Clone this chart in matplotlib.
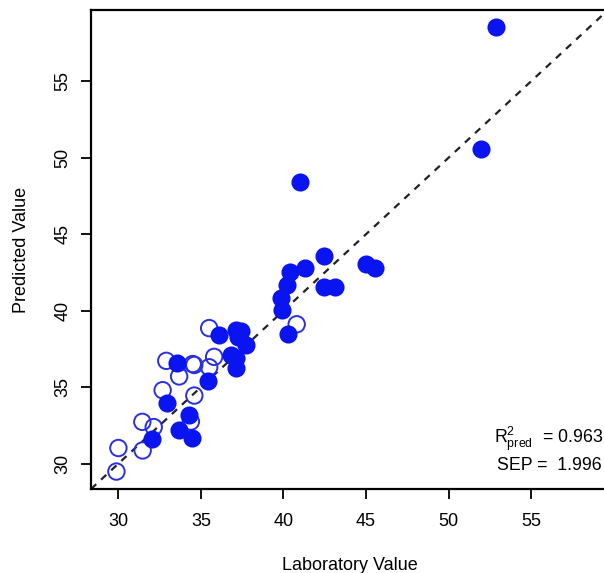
import matplotlib
matplotlib.use("Agg")
import matplotlib.pyplot as plt
import numpy as np

plt.rcParams['font.family'] = ['Liberation Sans', 'DejaVu Sans']
plt.rcParams['mathtext.fontset'] = 'custom'
plt.rcParams['mathtext.rm'] = 'Liberation Sans'
plt.rcParams['mathtext.it'] = 'Liberation Sans'

## filled points (laboratory, predicted)
lab_filled = [52.87, 51.96, 41.03, 42.44, 41.33, 40.42, 40.22, 39.85, 39.9, 42.44,
              43.15, 44.98, 45.56, 40.3, 36.1, 37.12, 37.42, 37.22, 37.73, 36.82,
              37.12, 37.12, 35.4, 33.57, 32.96, 34.28, 33.68, 34.45, 32.02]
pred_filled = [58.52, 50.57, 48.42, 43.6, 42.81, 42.52, 41.70, 40.83, 40.03, 41.54,
               41.54, 43.07, 42.78, 38.5, 38.4, 38.72, 38.68, 38.29, 37.75, 37.1,
               36.88, 36.23, 35.4, 36.56, 33.95, 33.19, 32.21, 31.67, 31.61]

## open points
lab_open = [40.8, 35.5, 35.8, 35.5, 32.9, 33.68, 34.5, 34.6, 32.68, 34.6,
            31.45, 32.14, 34.39, 30.0, 31.47, 29.88]
pred_open = [39.11, 38.86, 36.98, 36.3, 36.72, 35.7, 36.51, 36.45, 34.8, 34.45,
             32.73, 32.39, 32.75, 31.02, 30.86, 29.48]

ticks = [30, 35, 40, 45, 50, 55]
lims = (28.34, 59.66)

fig = plt.figure(figsize=(6.04, 5.73), dpi=100)
ax = fig.add_axes([91 / 604, 1 - 489 / 573, 517 / 604, 479 / 573])

ax.plot(lims, lims, color='#222222', ls=(0, (3.2, 3.0)), lw=1.6, zorder=1)
ax.scatter(lab_filled, pred_filled, s=140, color='#0a14f0', edgecolors='#0a14f0',
           linewidths=1.2, zorder=3)
ax.scatter(lab_open, pred_open, s=140, facecolors='none', edgecolors='#2a30e0',
           linewidths=1.4, zorder=2)

ax.set_xlim(lims)
ax.set_ylim(lims)
ax.set_xticks(ticks)
ax.set_yticks(ticks)
ax.tick_params(direction='out', length=7, width=1.3, labelsize=13)
ax.tick_params(axis='x', pad=10)
ax.tick_params(axis='y', pad=7)
for lab in ax.get_yticklabels():
    lab.set_rotation(90)
    lab.set_va('center')
for sp in ax.spines.values():
    sp.set_linewidth(1.6)

ax.set_xlabel('Laboratory Value', fontsize=13, labelpad=20)
ax.set_ylabel('Predicted Value', fontsize=13, labelpad=18)

ax.text(59.37, 31.6, r'$\mathregular{R^2_{pred}}$  = 0.963', fontsize=12.8,
        ha='right', va='center')
ax.text(59.3, 29.85, 'SEP =  1.996', fontsize=12.8, ha='right', va='center')

fig.savefig('out.png', dpi=100)
